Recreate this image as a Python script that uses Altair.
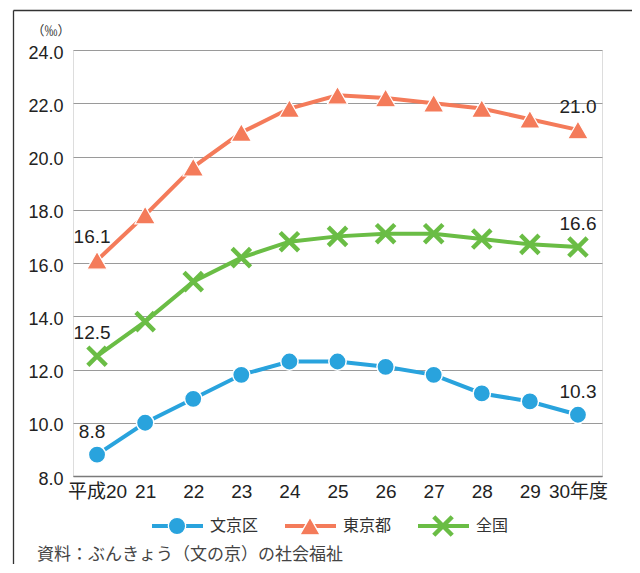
import altair as alt
import pandas as pd

years = ["平成20", "21", "22", "23", "24", "25", "26", "27", "28", "29", "30年度"]
bunkyo = [8.8, 10.0, 10.9, 11.8, 12.3, 12.3, 12.1, 11.8, 11.1, 10.8, 10.3]
tokyo = [16.1, 17.8, 19.6, 20.9, 21.8, 22.3, 22.2, 22.0, 21.8, 21.4, 21.0]
zenkoku = [12.5, 13.8, 15.3, 16.2, 16.8, 17.0, 17.1, 17.1, 16.9, 16.7, 16.6]
series = ["文京区", "東京都", "全国"]
colors = ["#29a3dd", "#f47b5a", "#6abd45"]
y_ticks = [8, 10, 12, 14, 16, 18, 20, 22, 24]
unit_label = "（‰）"
source_label = "資料：ぶんきょう（文の京）の社会福祉"

rows = []
for s, vals in zip(series, [bunkyo, tokyo, zenkoku]):
    for i, (yr, v) in enumerate(zip(years, vals)):
        rows.append({"year": yr, "value": v, "series": s, "idx": i})
df = pd.DataFrame(rows)

W, H = 529, 426
NUM_FONT = "Liberation Sans, Noto Sans CJK JP, sans-serif"
JP_FONT = "Noto Sans CJK JP, sans-serif"
XPATH = "M-1,-1L1,1M-1,1L1,-1"

x_enc = alt.X(
    "year:N", sort=years,
    scale=alt.Scale(type="point", padding=0.5),
    axis=alt.Axis(title=None, labelAngle=0, ticks=False, grid=False,
                  domain=True, domainColor="#7a7a7a", domainWidth=1.5,
                  labelFontSize=19, labelPadding=6, labelColor="#222",
                  labelFont=NUM_FONT),
)
y_enc = alt.Y(
    "value:Q",
    scale=alt.Scale(domain=[8, 24], nice=False, zero=False),
    axis=alt.Axis(title=None, values=y_ticks, format=".1f", ticks=False,
                  domain=False, grid=True, gridColor="#9a9a9a", gridWidth=1,
                  labelFontSize=18, labelPadding=10, labelOffset=3,
                  labelColor="#222", labelFont=NUM_FONT),
)
color_enc = alt.Color("series:N", scale=alt.Scale(domain=series, range=colors), legend=None)

base = alt.Chart(df)

lines = base.mark_line(strokeWidth=4).encode(x=x_enc, y=y_enc, color=color_enc, detail="series:N")

circles = base.transform_filter(alt.datum.series == series[0]).mark_point(
    shape="circle", filled=True, size=300, stroke="white", strokeWidth=1.5, opacity=1
).encode(x=x_enc, y=y_enc, color=alt.value(colors[0]))

triangles = base.transform_filter(alt.datum.series == series[1]).mark_point(
    shape="triangle-up", filled=True, size=420, stroke="white", strokeWidth=1.2, opacity=1
).encode(x=x_enc, y=y_enc, color=alt.value(colors[1]))

crosses = base.transform_filter(alt.datum.series == series[2]).mark_point(
    shape=XPATH, filled=False, size=340, strokeWidth=4.5, opacity=1, strokeCap="butt"
).encode(x=x_enc, y=y_enc, color=alt.value(colors[2]))

first_labels = base.transform_filter(alt.datum.idx == 0).mark_text(
    fontSize=19, font=NUM_FONT, color="#222", baseline="alphabetic", align="center", dy=-17, dx=-5
).encode(x=x_enc, y=y_enc, text=alt.Text("value:Q", format=".1f"))

last_labels = base.transform_filter(alt.datum.idx == len(years) - 1).mark_text(
    fontSize=19, font=NUM_FONT, color="#222", baseline="alphabetic", align="center", dy=-17
).encode(x=x_enc, y=y_enc, text=alt.Text("value:Q", format=".1f"))

one = pd.DataFrame({"k": [0]})
extras = []

# frame lines
extras.append(alt.Chart(one).mark_rule(color="#333", strokeWidth=1.3).encode(
    x=alt.value(-59.5), x2=alt.value(640), y=alt.value(-39.5)))
extras.append(alt.Chart(one).mark_rule(color="#333", strokeWidth=1.3).encode(
    x=alt.value(-59.5), y=alt.value(-39.5), y2=alt.value(600)))

# unit label
extras.append(alt.Chart(one).mark_text(fontSize=13, font=JP_FONT, color="#333", align="center",
                                       baseline="middle").encode(
    x=alt.value(-22), y=alt.value(-19), text=alt.value(unit_label)))

# legend
leg_y = 476
leg_shapes = ["circle", "triangle-up", XPATH]
leg_sizes = [300, 420, 340]
for i, s in enumerate(series):
    cx = 104 + i * 133
    extras.append(alt.Chart(one).mark_rule(color=colors[i], strokeWidth=4).encode(
        x=alt.value(cx - 25), x2=alt.value(cx + 26), y=alt.value(leg_y)))
    if i < 2:
        extras.append(alt.Chart(one).mark_point(
            shape=leg_shapes[i], filled=True, size=leg_sizes[i], stroke="white",
            strokeWidth=1.3, opacity=1, color=colors[i]).encode(
            x=alt.value(cx), y=alt.value(leg_y)))
    else:
        extras.append(alt.Chart(one).mark_point(
            shape=XPATH, filled=False, size=leg_sizes[i], strokeWidth=4.5, opacity=1,
            color=colors[i]).encode(x=alt.value(cx), y=alt.value(leg_y)))
    extras.append(alt.Chart(one).mark_text(fontSize=16, font=JP_FONT, color="#333", align="left",
                                           baseline="middle").encode(
        x=alt.value(cx + 33), y=alt.value(leg_y), text=alt.value(s)))

# source
extras.append(alt.Chart(one).mark_text(fontSize=17, font=JP_FONT, color="#444", align="left",
                                       baseline="middle").encode(
    x=alt.value(-36), y=alt.value(505), text=alt.value(source_label)))

chart = alt.layer(lines, circles, triangles, crosses, first_labels, last_labels, *extras).properties(
    width=W, height=H,
    autosize=alt.AutoSizeParams(type="none"),
    padding={"left": 65, "top": 42, "right": 30, "bottom": 88},
).configure_view(stroke=None).configure(background="white")

chart.save("out.html", embed_options={"renderer": "svg", "actions": False})
